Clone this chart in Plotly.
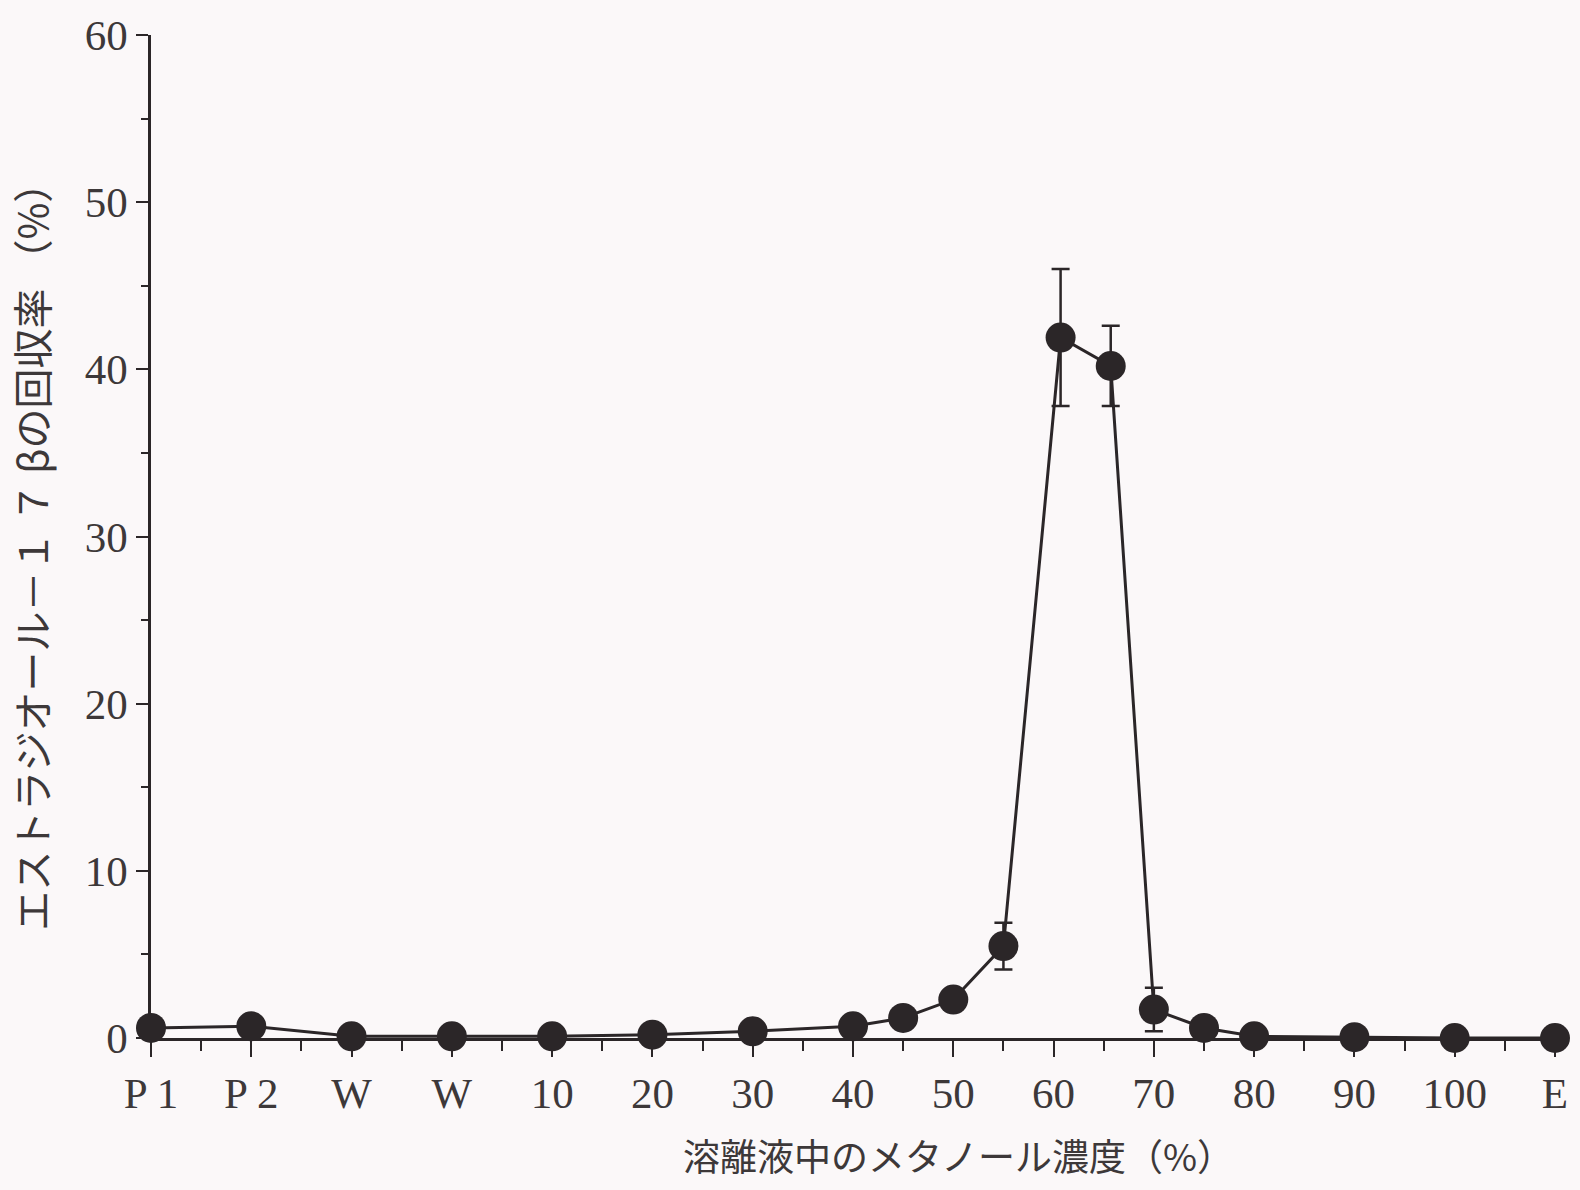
import plotly.graph_objects as go

# Category tick labels along the x axis
tick_labels = ["P 1", "P 2", "W", "W", "10", "20", "30", "40", "50", "60", "70", "80", "90", "100", "E"]
tick_positions = list(range(len(tick_labels)))
minor_positions = [i + 0.5 for i in range(len(tick_labels) - 1)]

# Data points (position on the fraction axis, recovery %, SD)
point_pos = [0, 1, 2, 3, 4, 5, 6, 7, 7.5, 8, 8.5, 9.07, 9.57, 10, 10.5, 11, 12, 13, 14]
recovery = [0.6, 0.7, 0.1, 0.1, 0.1, 0.2, 0.4, 0.7, 1.2, 2.3, 5.5, 41.9, 40.2, 1.7, 0.6, 0.1, 0.05, 0.0, 0.0]
err_sd = [0, 0, 0, 0, 0, 0, 0, 0, 0, 0, 1.4, 4.1, 2.4, 1.3, 0, 0, 0, 0, 0]

x_title = "溶離液中のメタノール濃度（%）"
y_title = "エストラジオール－１ ７ βの回収率 （%）"

ink = "#2b2628"
txt = "#3d3839"
bg = "#fbf8f9"

fig = go.Figure()
fig.add_trace(go.Scatter(
    x=point_pos, y=recovery,
    mode="lines+markers",
    line=dict(color=ink, width=3),
    marker=dict(color=ink, size=30, line=dict(width=0)),
    error_y=dict(type="data", array=err_sd, visible=True, color=ink, thickness=2.5, width=9),
    cliponaxis=False,
    showlegend=False,
))

serif = "Liberation Serif, DejaVu Serif, serif"
cjk = "Noto Sans CJK JP, sans-serif"

fig.update_layout(
    width=1580, height=1190,
    paper_bgcolor=bg, plot_bgcolor=bg,
    margin=dict(l=151, r=21, t=33, b=152),
    xaxis=dict(
        range=[0, 14], tickmode="array", tickvals=tick_positions, ticktext=tick_labels,
        showgrid=False, zeroline=False, showline=True, linecolor=ink, linewidth=2.5,
        ticks="outside", ticklen=16, tickwidth=2, tickcolor=ink,
        tickfont=dict(family=serif, size=43, color=txt),
        minor=dict(tickmode="array", tickvals=minor_positions, ticks="outside", ticklen=10, tickwidth=1.5, tickcolor=ink),
    ),
    yaxis=dict(
        range=[0, 60], tickmode="array", tickvals=[0, 10, 20, 30, 40, 50, 60],
        showgrid=False, zeroline=False, showline=True, linecolor=ink, linewidth=2.5,
        ticks="outside", ticklen=12, tickwidth=2, tickcolor=ink,
        tickfont=dict(family=serif, size=43, color=txt),
        minor=dict(tickmode="array", tickvals=[5, 15, 25, 35, 45, 55], ticks="outside", ticklen=7, tickwidth=1.5, tickcolor=ink),
    ),
    annotations=[
        dict(text=x_title, xref="paper", yref="paper", x=0.575, y=-0.117,
             xanchor="center", yanchor="middle", showarrow=False,
             font=dict(family=cjk, size=37, color=txt)),
        dict(text=y_title, xref="paper", yref="paper", x=-0.086, y=0.49,
             xanchor="center", yanchor="middle", showarrow=False, textangle=-90,
             font=dict(family=cjk, size=40, color=txt)),
    ],
)

fig.write_html("out.html", config={"displayModeBar": False},
               post_script="document.body.style.margin='0';document.body.style.overflow='hidden';")
